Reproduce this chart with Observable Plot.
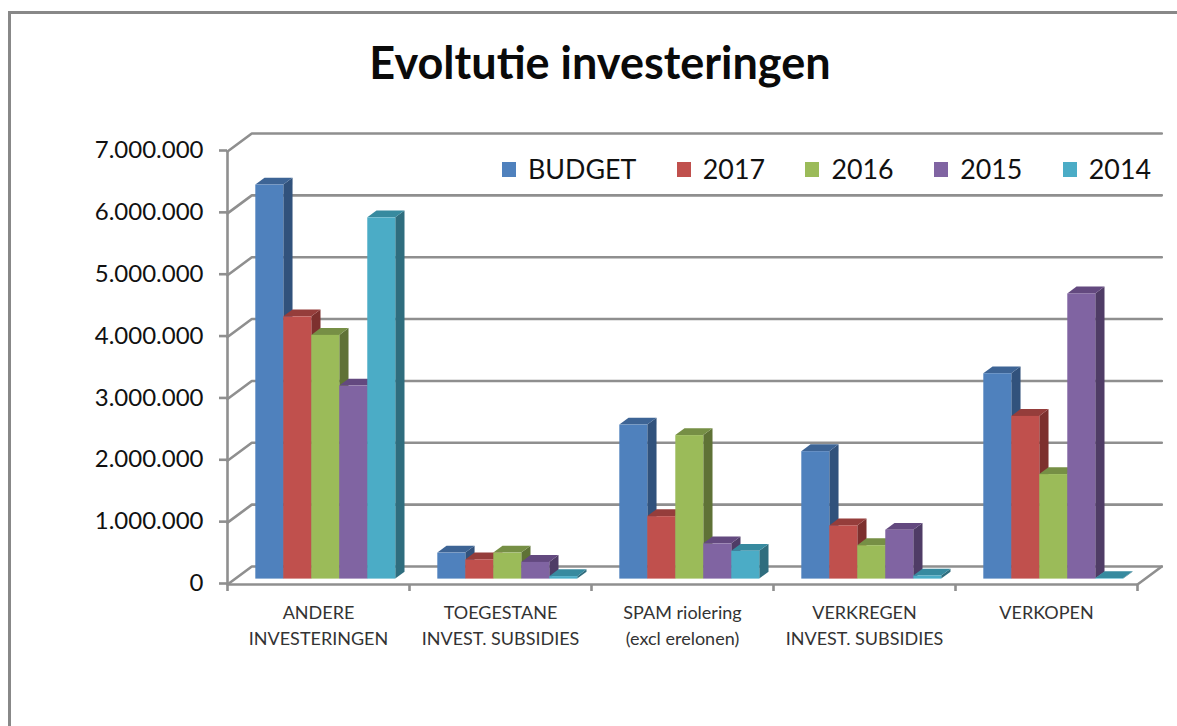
<!DOCTYPE html>
<html>
<head>
<meta charset="utf-8">
<script src="https://cdn.jsdelivr.net/npm/d3@7"></script>
<script src="https://cdn.jsdelivr.net/npm/@observablehq/plot@0.6"></script>
<style>
html,body{margin:0;padding:0;background:#fff;overflow:hidden}
#page{position:relative;width:1177px;height:726px;overflow:hidden;font-family:Lato,sans-serif}
#frame{position:absolute;left:8px;top:11px;width:1300px;height:900px;border-left:3px solid #888;border-top:3px solid #888;pointer-events:none}
#title{position:relative;height:110px;box-sizing:border-box;padding-top:37px;text-align:center;width:1200px;font-size:45px;font-weight:700;line-height:50px;color:#0a0a0a}
#legend{position:absolute;left:502px;top:152px;display:flex;gap:40.5px;font-size:26.8px;line-height:34px;color:#111}
#legend span.item{display:flex;align-items:center}
#legend i{display:inline-block;width:14px;height:15px;margin-right:12px}
</style>
</head>
<body>
<div id="page">
  <div id="frame"></div>
  <div id="title">Evoltutie investeringen</div>
  <div id="chart"></div>
  <div id="legend"></div>
</div>
<script>
const categories = ["ANDERE\nINVESTERINGEN", "TOEGESTANE\nINVEST. SUBSIDIES", "SPAM riolering\n(excl erelonen)", "VERKREGEN\nINVEST. SUBSIDIES", "VERKOPEN"];
const seriesNames = ["BUDGET", "2017", "2016", "2015", "2014"];
const budget = [6370000, 420000, 2490000, 2060000, 3320000];
const y2017  = [4240000, 310000, 1010000,  860000, 2630000];
const y2016  = [3940000, 420000, 2320000,  540000, 1690000];
const y2015  = [3120000, 270000,  570000,  790000, 4610000];
const y2014  = [5840000,  40000,  450000,   50000,   10000];
const seriesValues = [budget, y2017, y2016, y2015, y2014];
const yTicks = [0, 1000000, 2000000, 3000000, 4000000, 5000000, 6000000, 7000000];

const frontColors = ["#4f81bd", "#c0504d", "#9bbb59", "#8064a2", "#4bacc6"];
const sideColors  = ["#31527c", "#7d302e", "#5f7236", "#4f3c66", "#2f6d7e"];
const topColors   = ["#3d6495", "#953d3b", "#768f45", "#63497f", "#378a9f"];

// oblique projection of the depth axis, in data units
const depthX = 0.1335, depthY = 291000;
const d0 = 0.3, d1 = 0.68;
const gap = 0.1155, barW = 0.1538;

const rows = categories.flatMap((c, i) => seriesNames.map((s, j) => ({
  id: i + "-" + j, i, j, v: seriesValues[j][i],
  x: i + gap + j * barW
})));

const sideData = j => rows.filter(r => r.j === j).flatMap(r => [d0, d1].map(d => ({
  id: r.id, x: r.x + barW + d * depthX, y1: d * depthY, y2: r.v + d * depthY
})));
const topData = j => rows.filter(r => r.j === j).flatMap(r => [d0, d1].map(d => ({
  id: r.id, y: r.v + d * depthY, x1: r.x + d * depthX, x2: r.x + barW + d * depthX
})));

const barMarks = seriesNames.flatMap((s, j) => [
  Plot.areaY(sideData(j), {x: "x", y1: "y1", y2: "y2", z: "id", fill: sideColors[j]}),
  Plot.areaX(topData(j), {y: "y", x1: "x1", x2: "x2", z: "id", fill: topColors[j]}),
  Plot.rect(rows.filter(r => r.j === j), {
    x1: r => r.x + d0 * depthX, x2: r => r.x + barW + d0 * depthX,
    y1: d0 * depthY, y2: r => r.v + d0 * depthY,
    fill: frontColors[j], inset: 0
  })
]);

const wallColor = "#8f8f8f", wallWidth = 2.6;
const backLines = yTicks.map(v => [
  {x: 0, y: v}, {x: depthX, y: v + depthY}, {x: categories.length + depthX, y: v + depthY}
]).flatMap((pts, k) => pts.map(p => ({...p, k})));

const fmt = d => d3.format(",")(d).replace(/,/g, ".");

const chart = Plot.plot({
  width: 1177,
  height: 616,
  marginLeft: 227,
  marginRight: 40,
  marginTop: 41,
  marginBottom: 142,
  x: {domain: [0, categories.length], axis: null},
  y: {domain: [0, 7000000], axis: null},
  style: {fontFamily: "Lato, sans-serif", background: "transparent", overflow: "visible"},
  marks: [
    Plot.line(backLines, {x: "x", y: "y", z: "k", stroke: wallColor, strokeWidth: wallWidth, curve: "linear"}),
    Plot.line([{x: categories.length, y: 0}, {x: categories.length + depthX, y: depthY}], {x: "x", y: "y", stroke: wallColor, strokeWidth: wallWidth}),
    Plot.ruleX([0], {y1: 0, y2: 7000000, stroke: wallColor, strokeWidth: wallWidth}),
    Plot.ruleY([0], {stroke: wallColor, strokeWidth: wallWidth}),
    Plot.axisY({
      ticks: yTicks, tickFormat: fmt, tickSize: 8, tickPadding: 16, label: null,
      fontSize: 24, dy: -1, stroke: wallColor, strokeWidth: wallWidth, color: "#111"
    }),
    Plot.axisX({
      ticks: d3.range(categories.length + 1), tickFormat: () => "", tickSize: 7, label: null,
      stroke: wallColor, strokeWidth: wallWidth
    }),
    ...barMarks,
    Plot.text(categories, {
      x: (c, i) => i + 0.5, y: 0, text: d => d, dy: 16,
      lineAnchor: "top", lineHeight: 1.43, fontSize: 18, fill: "#333"
    })
  ]
});
document.getElementById("chart").appendChild(chart);

const legend = document.getElementById("legend");
seriesNames.forEach((s, j) => {
  const item = document.createElement("span");
  item.className = "item";
  const sw = document.createElement("i");
  sw.style.background = frontColors[j];
  item.appendChild(sw);
  item.appendChild(document.createTextNode(s));
  legend.appendChild(item);
});
</script>
</body>
</html>
